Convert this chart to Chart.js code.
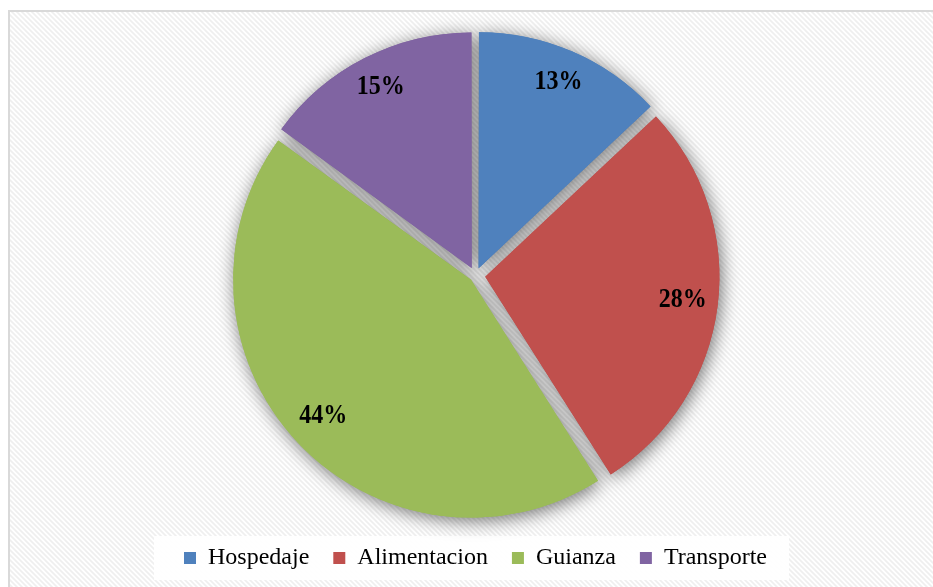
<!DOCTYPE html>
<html><head><meta charset="utf-8">
<script src="https://cdn.jsdelivr.net/npm/chart.js@4.4.0/dist/chart.umd.min.js"></script>
<style>html,body{margin:0;padding:0;background:#fff;overflow:hidden}</style>
</head><body>
<canvas id="c" width="933" height="587"></canvas>
<script>
const categories = ['Hospedaje', 'Alimentacion', 'Guianza', 'Transporte'];
const values = [13, 28, 44, 15];
const valueLabels = ['13%', '28%', '44%', '15%'];
const sliceColors = ['#4f81bd', '#c0504d', '#9bbb59', '#8064a2'];

const EXPLODE = 10; // desired pixel explosion of each slice
const total = values.reduce((a, b) => a + b, 0);

// Chart.js v4 arc draws offset/4 * (1 + fix), fix = 1 - sin(min(PI, circumference))
function offsetFor(i) {
  const circ = values[i] / total * Math.PI * 2;
  const fix = 1 - Math.sin(Math.min(Math.PI, circ));
  return EXPLODE * 4 / (1 + fix);
}

function makePattern(ctx) {
  const p = document.createElement('canvas');
  p.width = 5; p.height = 5;
  const c = p.getContext('2d');
  c.fillStyle = '#ffffff'; c.fillRect(0, 0, 5, 5);
  c.strokeStyle = '#efefef'; c.lineWidth = 1.6;
  c.beginPath();
  for (let k = -5; k <= 5; k += 5) { c.moveTo(k - 1, -1); c.lineTo(k + 6, 6); }
  c.stroke();
  return ctx.createPattern(p, 'repeat');
}

const bgPlugin = {
  id: 'bg',
  beforeDraw(chart) {
    const ctx = chart.ctx;
    ctx.save();
    ctx.fillStyle = '#ffffff';
    ctx.fillRect(0, 0, chart.width, chart.height);
    ctx.fillStyle = makePattern(ctx);
    ctx.fillRect(10, 12, chart.width - 10, chart.height - 12);
    ctx.fillStyle = '#d9d9d9';
    ctx.fillRect(8, 10, chart.width - 8, 2);
    ctx.fillRect(8, 10, 2, chart.height - 10);
    const lg = chart.legend;
    if (lg && lg.legendHitBoxes && lg.legendHitBoxes.length) {
      const hb = lg.legendHitBoxes;
      const first = hb[0], last = hb[hb.length - 1];
      const cy = first.top + first.height / 2;
      ctx.fillStyle = 'rgba(255,255,255,0.92)';
      ctx.fillRect(first.left - 30, cy - 22, last.left + last.width + 22 - (first.left - 30), 44);
    }
    ctx.restore();
  }
};

const shadowPlugin = {
  id: 'shadow',
  beforeDatasetsDraw(chart) {
    const ctx = chart.ctx;
    const meta = chart.getDatasetMeta(0);
    ctx.save();
    ctx.shadowColor = 'rgba(0,0,0,0.55)';
    ctx.shadowBlur = 18;
    ctx.shadowOffsetX = 2;
    ctx.shadowOffsetY = 3;
    meta.data.forEach(a => a.draw(ctx));
    ctx.restore();
  }
};

const labelPlugin = {
  id: 'pctLabels',
  afterDatasetsDraw(chart) {
    const ctx = chart.ctx;
    const meta = chart.getDatasetMeta(0);
    ctx.save();
    ctx.fillStyle = '#000';
    ctx.font = 'bold 24px "Liberation Serif", "Times New Roman", serif';
    ctx.textAlign = 'center';
    ctx.textBaseline = 'middle';
    meta.data.forEach((arc, i) => {
      const p = arc.getProps(['x', 'y', 'startAngle', 'endAngle', 'outerRadius'], true);
      const mid = (p.startAngle + p.endAngle) / 2;
      const r = p.outerRadius * 0.85 + EXPLODE;
      const x = p.x + Math.cos(mid) * r;
      const y = p.y + Math.sin(mid) * r;
      ctx.save();
      ctx.translate(x, y - 2);
      ctx.scale(1, 1.1);
      ctx.fillText(valueLabels[i], 0, 0);
      ctx.restore();
    });
    ctx.restore();
  }
};

new Chart(document.getElementById('c'), {
  type: 'pie',
  data: {
    labels: categories,
    datasets: [{
      data: values,
      backgroundColor: sliceColors,
      borderWidth: 0,
      offset: (c) => offsetFor(c.dataIndex),
      hoverOffset: 0
    }]
  },
  options: {
    responsive: false,
    devicePixelRatio: 1,
    animation: false,
    radius: 234,
    layout: { padding: { top: 29, bottom: 7, left: 18, right: 0 } },
    plugins: {
      tooltip: { enabled: false },
      legend: {
        position: 'bottom',
        labels: {
          color: '#000',
          boxWidth: 12,
          boxHeight: 12,
          padding: 24,
          font: { family: '"Liberation Serif", "Times New Roman", serif', size: 24 }
        }
      }
    }
  },
  plugins: [bgPlugin, shadowPlugin, labelPlugin]
});
</script>
</body></html>
